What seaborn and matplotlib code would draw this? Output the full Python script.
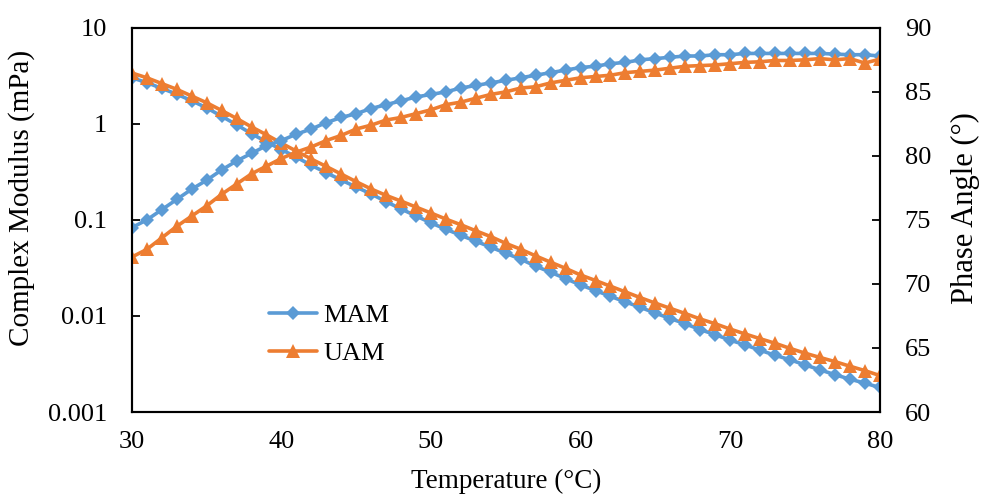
import numpy as np
import pandas as pd
import matplotlib
matplotlib.use('Agg')
import matplotlib.pyplot as plt
import seaborn as sns

# Temperatura (°C)
temperature = list(range(30, 81))

# Complex modulus (mPa)
mam_modulus = [3.02, 2.69, 2.34, 2.04, 1.74, 1.47, 1.20, 0.98, 0.79, 0.65,
               0.54, 0.45, 0.37, 0.31, 0.26, 0.22, 0.186, 0.155, 0.130, 0.110,
               0.093, 0.080, 0.069, 0.060, 0.052, 0.045, 0.039, 0.033, 0.0285, 0.0245,
               0.021, 0.0184, 0.0160, 0.0140, 0.0123, 0.0107, 0.0094, 0.0083, 0.0072, 0.0064,
               0.0056, 0.0050, 0.0044, 0.0039, 0.0035, 0.0031, 0.00275, 0.00245, 0.0022, 0.0020,
               0.0018]
uam_modulus = [3.39, 3.02, 2.63, 2.29, 1.95, 1.66, 1.38, 1.14, 0.93, 0.77,
               0.63, 0.52, 0.43, 0.36, 0.30, 0.25, 0.21, 0.18, 0.157, 0.136,
               0.118, 0.102, 0.089, 0.077, 0.067, 0.057, 0.0495, 0.0422, 0.0363, 0.0313,
               0.0267, 0.0234, 0.0204, 0.0178, 0.0155, 0.0136, 0.0120, 0.0106, 0.0093, 0.0083,
               0.0073, 0.0065, 0.0058, 0.0052, 0.0046, 0.0041, 0.0037, 0.00335, 0.0030, 0.0027,
               0.0024]

# Phase angle (°)
mam_phase = [74.4, 75.0, 75.8, 76.6, 77.4, 78.1, 78.9, 79.6, 80.2, 80.8,
             81.2, 81.7, 82.1, 82.6, 83.0, 83.3, 83.7, 84.0, 84.3, 84.6,
             84.8, 85.0, 85.3, 85.5, 85.7, 85.9, 86.1, 86.3, 86.5, 86.7,
             86.9, 87.0, 87.2, 87.3, 87.5, 87.6, 87.7, 87.8, 87.8, 87.9,
             87.9, 88.0, 88.0, 88.0, 88.0, 88.0, 88.0, 87.95, 87.9, 87.9,
             87.8]
uam_phase = [72.1, 72.7, 73.6, 74.5, 75.3, 76.1, 77.0, 77.8, 78.6, 79.2,
             79.8, 80.3, 80.7, 81.2, 81.6, 82.1, 82.4, 82.8, 83.0, 83.3,
             83.6, 84.0, 84.2, 84.5, 84.8, 85.0, 85.3, 85.4, 85.7, 85.9,
             86.1, 86.2, 86.3, 86.5, 86.6, 86.7, 86.85, 87.0, 87.05, 87.1,
             87.2, 87.3, 87.35, 87.45, 87.45, 87.5, 87.6, 87.5, 87.6, 87.25,
             87.55]

modulus_ticks = [0.001, 0.01, 0.1, 1, 10]
modulus_labels = ['0.001', '0.01', '0.1', '1', '10']
phase_ticks = [60, 65, 70, 75, 80, 85, 90]
temp_ticks = [30, 40, 50, 60, 70, 80]

sns.set_style('white')
plt.rcParams['font.family'] = ['Liberation Serif', 'DejaVu Serif']
plt.rcParams['text.color'] = 'black'
plt.rcParams['axes.labelcolor'] = 'black'

blue = '#5B9BD5'
orange = '#ED7D31'

df = pd.DataFrame({
    'temperature': temperature,
    'mam_modulus': mam_modulus,
    'uam_modulus': uam_modulus,
    'mam_phase': mam_phase,
    'uam_phase': uam_phase,
})

fig = plt.figure(figsize=(9.84, 4.97), dpi=100)
ax1 = fig.add_axes([0.134, 0.171, 0.76, 0.773])
ax2 = ax1.twinx()

line_kw = dict(linewidth=2.6, markersize=7.5, markeredgewidth=0)
tri_kw = dict(line_kw, markersize=9.5)

sns.lineplot(data=df, x='temperature', y='mam_modulus', ax=ax1, color=blue,
             marker='D', label='MAM', **line_kw)
sns.lineplot(data=df, x='temperature', y='uam_modulus', ax=ax1, color=orange,
             marker='^', label='UAM', **tri_kw)
sns.lineplot(data=df, x='temperature', y='mam_phase', ax=ax2, color=blue,
             marker='D', legend=False, **line_kw)
sns.lineplot(data=df, x='temperature', y='uam_phase', ax=ax2, color=orange,
             marker='^', legend=False, **tri_kw)

ax1.set_yscale('log')
ax1.set_ylim(0.001, 10)
ax1.set_xlim(30, 80)
ax2.set_ylim(60, 90)

ax1.set_yticks(modulus_ticks)
ax1.set_yticklabels(modulus_labels)
ax1.minorticks_off()
ax2.set_yticks(phase_ticks)
ax1.set_xticks(temp_ticks)

ax1.set_xlabel('Temperature (°C)', fontsize=19.5, labelpad=11)
ax1.set_ylabel('Complex Modulus (mPa)', fontsize=21, labelpad=9)
ax2.set_ylabel('Phase Angle (°)', fontsize=22, labelpad=14)
ax1.yaxis.label.set_y(0.557)
ax2.yaxis.label.set_y(0.53)

for ax in (ax1, ax2):
    ax.tick_params(direction='in', length=6, width=1.3, labelsize=19,
                   colors='black', pad=18)
    for sp in ax.spines.values():
        sp.set_color('black')
        sp.set_linewidth(1.5)
        sp.set_visible(True)
ax1.tick_params(axis='x', pad=14)

ax1.legend(loc='lower left', bbox_to_anchor=(0.152, 0.06), frameon=False,
           fontsize=19, handlelength=1.8, handletextpad=0.25, labelspacing=0.55)

fig.savefig('out.png', dpi=100)
